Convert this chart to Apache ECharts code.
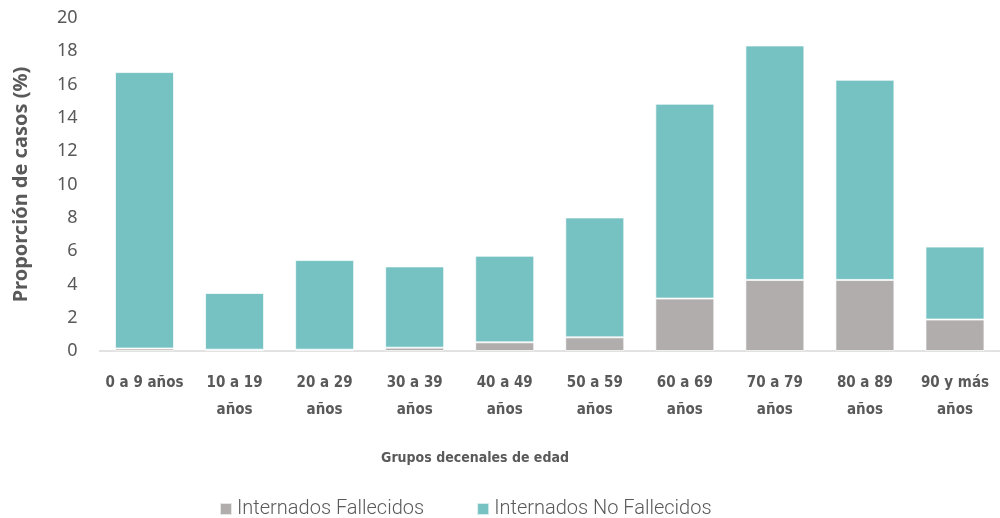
<!DOCTYPE html>
<html>
<head>
<meta charset="utf-8">
<script src="https://cdn.jsdelivr.net/npm/echarts@6/dist/echarts.min.js"></script>
<style>html,body{margin:0;padding:0;background:#fff}#c{width:1000px;height:518px}</style>
</head>
<body>
<div id="c"></div>
<script>
const categories = ['0 a 9 años','10 a 19\naños','20 a 29\naños','30 a 39\naños','40 a 49\naños','50 a 59\naños','60 a 69\naños','70 a 79\naños','80 a 89\naños','90 y más\naños'];
const fallecidos = [0.15, 0.08, 0.08, 0.2, 0.52, 0.82, 3.15, 4.27, 4.27, 1.89];
const noFallecidos = [16.6, 3.4, 5.38, 4.88, 5.2, 7.2, 11.7, 14.08, 12.02, 4.38];
const yTicks = {min: 0, max: 20, interval: 2};

const condensed = '"DejaVu Sans Condensed", Roboto, sans-serif';
const chart = echarts.init(document.getElementById('c'), null, {renderer: 'canvas'});
chart.setOption({
  animation: false,
  backgroundColor: '#ffffff',
  grid: {left: 99.5, top: 18, width: 910, height: 333, containLabel: false},
  legend: {
    left: 214, top: 494,
    itemWidth: 12, itemHeight: 12, itemGap: 52,
    icon: 'rect',
    textStyle: {fontFamily: 'Roboto', fontWeight: 300, fontSize: 20, color: '#595959'},
    data: ['Internados Fallecidos', 'Internados No Fallecidos']
  },
  graphic: [{
    type: 'text', x: 475, y: 458,
    style: {text: 'Grupos decenales de edad', font: 'bold 14px ' + condensed, fill: '#595959', align: 'center', verticalAlign: 'middle'}
  }],
  xAxis: {
    type: 'category', data: categories,
    axisLine: {lineStyle: {color: '#d9d9d9', width: 1.5}},
    axisTick: {show: false},
    axisLabel: {
      interval: 0, margin: 19, lineHeight: 27,
      fontFamily: condensed, fontWeight: 'bold', fontSize: 15, color: '#595959'
    }
  },
  yAxis: {
    type: 'value', min: yTicks.min, max: yTicks.max, interval: yTicks.interval,
    splitLine: {show: false},
    axisLine: {show: false}, axisTick: {show: false},
    axisLabel: {margin: 22, fontFamily: 'Noto Sans', fontSize: 18, color: '#595959'},
    name: 'Proporción de casos (%)', nameLocation: 'middle', nameGap: 68, nameRotate: 90,
    nameTextStyle: {fontFamily: 'Noto Sans', fontWeight: 'bold', fontSize: 20, color: '#595959'}
  },
  series: [
    {
      name: 'Internados Fallecidos', type: 'bar', stack: 't', data: fallecidos,
      barWidth: 59,
      itemStyle: {color: '#B0ADAC', borderColor: 'rgba(255,255,255,0.7)', borderWidth: 1}
    },
    {
      name: 'Internados No Fallecidos', type: 'bar', stack: 't', data: noFallecidos,
      barWidth: 59,
      itemStyle: {color: '#76C1C2', borderColor: 'rgba(255,255,255,0.7)', borderWidth: 1}
    }
  ]
});
</script>
</body>
</html>
